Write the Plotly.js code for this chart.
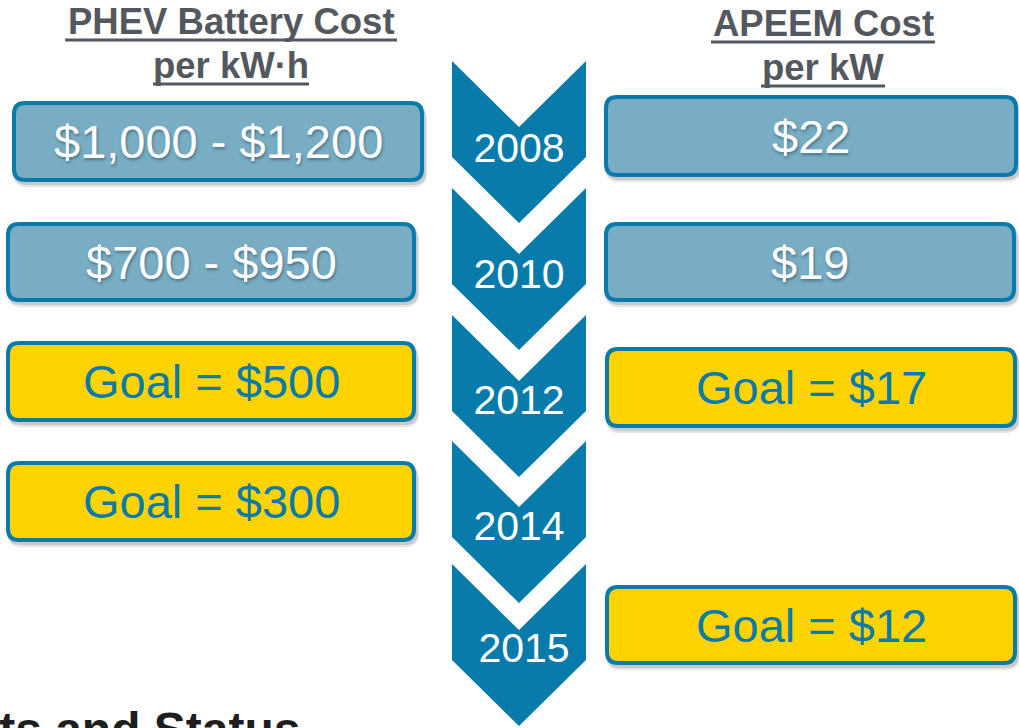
<!DOCTYPE html>
<html>
<head>
<meta charset="utf-8">
<script src="https://cdn.plot.ly/plotly-3.0.1.min.js"></script>
<style>
html,body{margin:0;padding:0;background:#fff;}
#chart{width:1019px;height:728px;}
</style>
</head>
<body>
<div id="chart"></div>
<script>
// ---- data ----
const years = ['2008', '2010', '2012', '2014', '2015'];
const batteryCost = ['$1,000 - $1,200', '$700 - $950', 'Goal = $500', 'Goal = $300', null];
const batteryIsGoal = [false, false, true, true, null];
const apeemCost = ['$22', '$19', 'Goal = $17', null, 'Goal = $12'];
const apeemIsGoal = [false, false, true, null, true];
const leftTitle = ['PHEV Battery Cost', 'per kW·h'];
const rightTitle = ['APEEM Cost', 'per kW'];
const footerText = 'Targets and Status';

// ---- layout geometry (pixel space) ----
const chevTops = [61, 188, 315, 441, 564];
const chevX = [452, 586];
const notch = 66, body = 96;
const leftBoxes = [[12, 101, 424, 182], [6, 222, 416, 302], [6, 341, 416, 422], [6, 461, 416, 542], null];
const rightBoxes = [[604, 95, 1018, 177], [604, 222, 1016, 302], [605, 347, 1017, 428], null, [605, 585, 1017, 665]];
const yearTextY = [152, 278, 404, 530, 652];
const yearTextX = [519, 519, 519, 519, 524];

const BLUE = '#087bab';
const GREY_FILL = '#79adc4';
const YELLOW = '#ffd300';
const TITLE_GREY = '#53585e';
const FONT = 'Liberation Sans, Arial, sans-serif';

function rr(x0, y0, x1, y1, r) {
  return `M${x0 + r},${y0} L${x1 - r},${y0} Q${x1},${y0} ${x1},${y0 + r} L${x1},${y1 - r} Q${x1},${y1} ${x1 - r},${y1} ` +
         `L${x0 + r},${y1} Q${x0},${y1} ${x0},${y1 - r} L${x0},${y0 + r} Q${x0},${y0} ${x0 + r},${y0} Z`;
}

const shapes = [];
const annotations = [];

// chevrons
chevTops.forEach(t => {
  const [a, b] = chevX, c = (a + b) / 2;
  shapes.push({
    type: 'path', xref: 'x', yref: 'y', layer: 'below',
    path: `M${a},${t} L${c},${t + notch} L${b},${t} L${b},${t + body} L${c},${t + body + notch} L${a},${t + body} Z`,
    fillcolor: BLUE, line: {width: 0}
  });
});

function addBox(box, text, goal) {
  if (!box || text == null) return;
  const [x0, y0, x1, y1] = box;
  // soft shadow
  shapes.push({type: 'path', xref: 'x', yref: 'y', layer: 'below',
    path: rr(x0 + 1, y0 + 5, x1 + 3, y1 + 5, 14), fillcolor: 'rgba(0,0,0,0.10)', line: {width: 0}});
  shapes.push({type: 'path', xref: 'x', yref: 'y', layer: 'below',
    path: rr(x0 + 2, y0 + 3, x1 + 2, y1 + 3, 13), fillcolor: 'rgba(0,0,0,0.12)', line: {width: 0}});
  shapes.push({type: 'path', xref: 'x', yref: 'y', layer: 'below',
    path: rr(x0 + 2, y0 + 2, x1 - 2, y1 - 2, 11),
    fillcolor: goal ? YELLOW : GREY_FILL, line: {color: BLUE, width: 4}});
  const cx = (x0 + x1) / 2, cy = (y0 + y1) / 2;
  annotations.push({x: cx, y: cy, xref: 'x', yref: 'y', text: text, showarrow: false,
    font: {family: FONT, size: 47, color: goal ? BLUE : '#ffffff',
           shadow: goal ? 'none' : '1px 2px 3px rgba(20,50,70,0.45)'},
    xanchor: 'center', yanchor: 'middle'});
}

years.forEach((y, i) => {
  addBox(leftBoxes[i], batteryCost[i], batteryIsGoal[i]);
  addBox(rightBoxes[i], apeemCost[i], apeemIsGoal[i]);
});

// titles
function addTitle(lines, cx, ys, underlines) {
  lines.forEach((l, i) => {
    annotations.push({x: cx, y: ys[i], xref: 'x', yref: 'y', text: '<b>' + l + '</b>', showarrow: false,
      font: {family: FONT, size: 36.5, color: TITLE_GREY}, xanchor: 'center', yanchor: 'middle'});
    const [u0, u1, uy] = underlines[i];
    shapes.push({type: 'line', xref: 'x', yref: 'y', x0: u0, x1: u1, y0: uy, y1: uy,
      line: {color: TITLE_GREY, width: 3}});
  });
}
addTitle(leftTitle, 231, [21, 65], [[65, 397, 40], [153, 309, 84]]);
addTitle(rightTitle, 823, [23, 67], [[711, 935, 42], [761, 885, 86]]);

// footer (cut off at page bottom, as in the source slide)
annotations.push({x: 303, y: 727, xref: 'x', yref: 'y', yshift: -2, text: '<b>' + footerText + '</b>', showarrow: false,
  font: {family: FONT, size: 48, color: '#1e1e1e'}, xanchor: 'right', yanchor: 'middle'});

const trace = {
  type: 'scatter', mode: 'text', x: yearTextX, y: yearTextY, text: years,
  textposition: 'middle center', hoverinfo: 'skip',
  textfont: {family: FONT, size: 41, color: '#ffffff'}
};

const layout = {
  width: 1019, height: 728,
  margin: {l: 0, r: 0, t: 0, b: 0},
  paper_bgcolor: '#ffffff', plot_bgcolor: '#ffffff',
  showlegend: false,
  xaxis: {range: [0, 1019], visible: false, fixedrange: true},
  yaxis: {range: [728, 0], visible: false, fixedrange: true},
  shapes: shapes, annotations: annotations
};

Plotly.newPlot('chart', [trace], layout, {staticPlot: true});
</script>
</body>
</html>
